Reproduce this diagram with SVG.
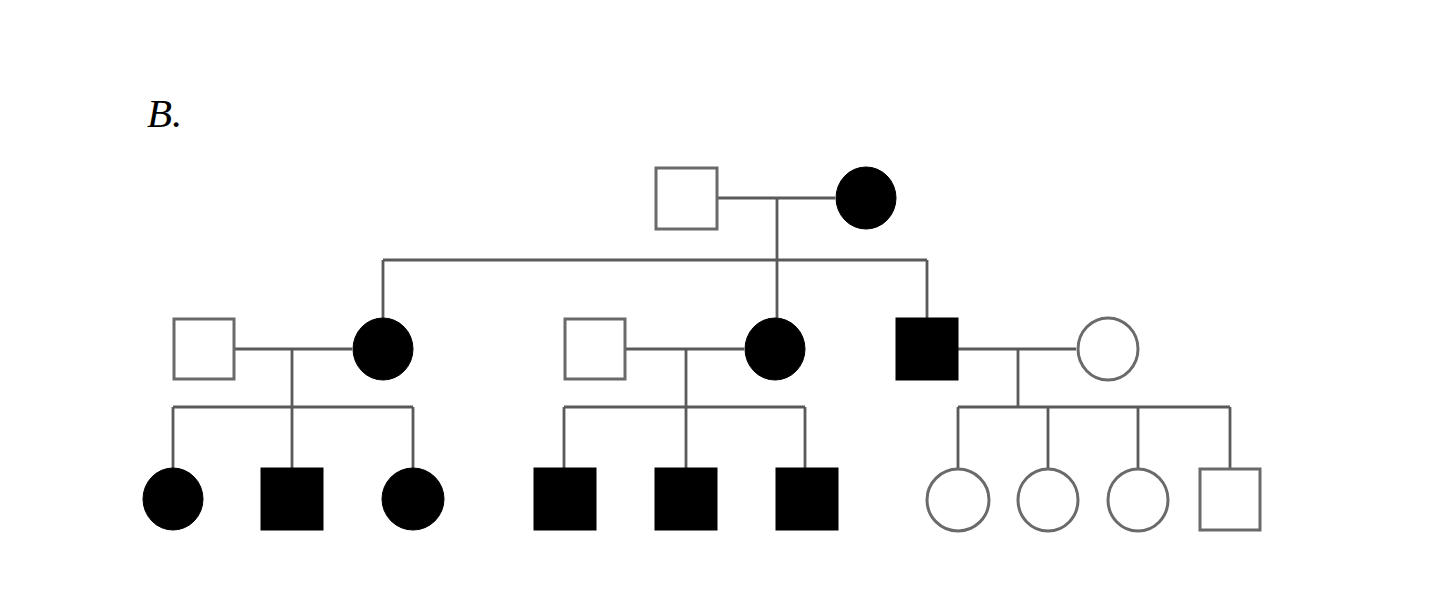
<svg xmlns="http://www.w3.org/2000/svg" width="1440" height="604" viewBox="0 0 1440 604">
<style>
.ln{stroke:#5a5a5a;stroke-width:2.8;fill:none}
.open{fill:#fff;stroke:#6a6a6a;stroke-width:3}
.aff{fill:#000;stroke:#000;stroke-width:1}
.lbl{font-family:"Liberation Serif",serif;font-style:italic;font-size:41px;fill:#000}
</style>
<rect width="1440" height="604" fill="#fff"/>
<text class="lbl" x="147" y="127">B.</text>
<g id="connectors">
<path class="ln" d="M717 198H835M777 198V318M383 260H927M383 260V318M927 260V318"/>
<path class="ln" d="M235 349H352M292 349V468M173 407H413M173 407V468M413 407V468"/>
<path class="ln" d="M626 349H744M686 349V468M564 407H805M564 407V468M805 407V468"/>
<path class="ln" d="M958 349H1076M1018 349V407M958 407H1230M958 407V468M1048 407V468M1138 407V468M1230 407V468"/>
</g>
<g id="I1"><rect class="open" x="656" y="168" width="61" height="61"/></g>
<g id="I2"><ellipse class="aff" cx="866" cy="198" rx="30" ry="31"/></g>
<g id="II1"><rect class="open" x="174" y="319" width="60" height="60"/></g>
<g id="II2"><ellipse class="aff" cx="383" cy="349" rx="30" ry="31"/></g>
<g id="II3"><rect class="open" x="565" y="319" width="60" height="60"/></g>
<g id="II4"><ellipse class="aff" cx="775" cy="349" rx="30" ry="31"/></g>
<g id="II5"><rect class="aff" x="896" y="318" width="62" height="62"/></g>
<g id="II6"><ellipse class="open" cx="1108" cy="349" rx="30" ry="31"/></g>
<g id="III1"><ellipse class="aff" cx="173" cy="499" rx="30" ry="31"/></g>
<g id="III2"><rect class="aff" x="261" y="468" width="62" height="62"/></g>
<g id="III3"><ellipse class="aff" cx="413" cy="499" rx="31" ry="31"/></g>
<g id="III4"><rect class="aff" x="534" y="468" width="62" height="62"/></g>
<g id="III5"><rect class="aff" x="655" y="468" width="62" height="62"/></g>
<g id="III6"><rect class="aff" x="776" y="468" width="62" height="62"/></g>
<g id="III7"><ellipse class="open" cx="958" cy="500" rx="31" ry="31"/></g>
<g id="III8"><ellipse class="open" cx="1048" cy="500" rx="30" ry="31"/></g>
<g id="III9"><ellipse class="open" cx="1138" cy="500" rx="30" ry="31"/></g>
<g id="III10"><rect class="open" x="1200" y="469" width="60" height="61"/></g>
</svg>
